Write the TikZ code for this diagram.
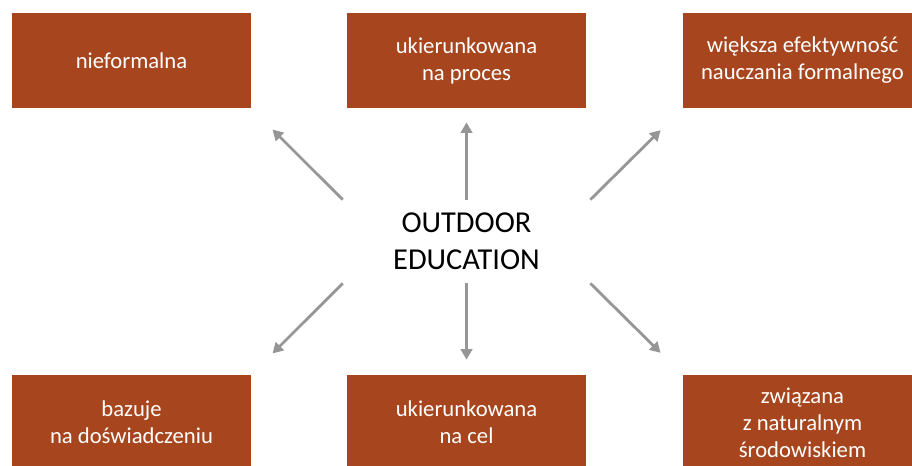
\documentclass[tikz,border=0pt]{standalone}
\usepackage{fontspec}
\setmainfont{Carlito}
\usetikzlibrary{arrows.meta}
\definecolor{rdza}{RGB}{167,70,30}
\definecolor{szary}{RGB}{150,150,150}

\begin{document}
\begin{tikzpicture}[x=0.02cm,y=-0.02cm,
	pole/.style={fill=rdza,text=white,minimum width=4.78cm,minimum height=1.9cm,inner sep=0pt,align=center,font=\fontsize{12.9}{15.4}\selectfont},
	strz/.style={draw=szary,line width=1.6pt,-{Triangle[length=6pt,width=6.5pt]}}]
		\clip (0,0) rectangle (912,466);
		% Pola
		\node[pole] (nf) at (131.5,60.5) {nieformalna};
		\node[pole] (up) at (466.5,60.5) {ukierunkowana\\na proces};
		\node[pole] (we) at (802.5,60.5) {większa efektywność\\nauczania formalnego};
		\node[pole] (bd) at (131.5,422.5) {bazuje\\na doświadczeniu};
		\node[pole] (uc) at (466.5,422.5) {ukierunkowana\\na cel};
		\node[pole] (zs) at (802.5,422.5) {związana\\z naturalnym\\środowiskiem};
		\node[minimum width=4.94cm,minimum height=1.66cm,inner sep=0pt,align=center,font=\fontsize{17.3}{21}\selectfont] (oe) at (466.5,241.5) {OUTDOOR\\EDUCATION};
		% Strzałki
		\draw[strz,shorten >=0.6cm] (oe.north west) -- (nf.south east);
		\draw[strz,shorten >=0.28cm] (oe.north) -- (up.south);
		\draw[strz,shorten >=0.62cm] (oe.north east) -- (we.south west);
		\draw[strz,shorten >=0.6cm] (oe.south west) -- (bd.north east);
		\draw[strz,shorten >=0.3cm] (oe.south) -- (uc.north);
		\draw[strz,shorten >=0.62cm] (oe.south east) -- (zs.north west);
\end{tikzpicture}
\end{document}
